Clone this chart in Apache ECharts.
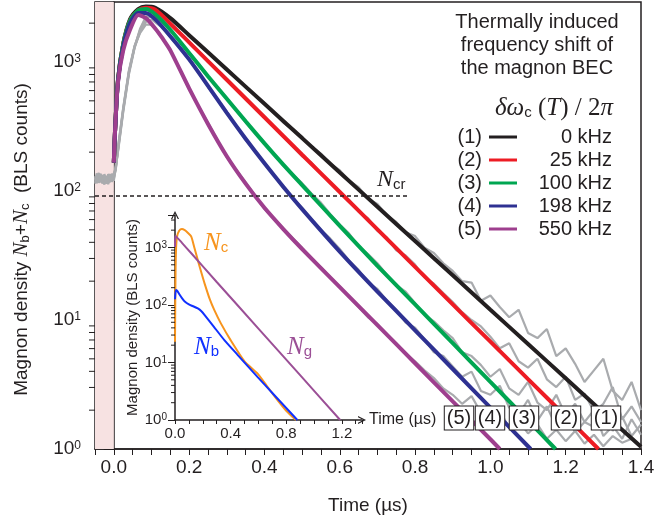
<!DOCTYPE html>
<html><head><meta charset="utf-8">
<script src="https://cdn.jsdelivr.net/npm/echarts@6.0.0/dist/echarts.min.js"></script>
<style>html,body{margin:0;padding:0;background:#fff}#c{width:655px;height:524px}</style>
</head><body><div id="c"></div>
<script>
const SANS = '"Liberation Sans", Arial, Helvetica, sans-serif';
const SERIF = '"Liberation Serif", "Times New Roman", serif';
const INK = '#231f20';

// ---- main chart: fitted curves (time in µs, magnon density in BLS counts)
const fitNames = ['0 kHz', '25 kHz', '100 kHz', '198 kHz', '550 kHz'];
const fitTags = ['(1)', '(2)', '(3)', '(4)', '(5)'];
const fitColors = ['#231f20', '#ed1c24', '#00a651', '#2e3192', '#9e3f8e'];

const fit1 = [[0,166],[0.003,282],[0.011,724],[0.025,1380],[0.043,2138],[0.065,2570],[0.085,2692],[0.11,2630],[0.15,2188],[0.2,1614],[0.3,875],[0.4,474],[0.5,257],[0.6,139],[0.7,75.5],[0.8,40.9],[0.9,22.2],[1.0,12.0],[1.1,6.52],[1.2,3.53],[1.3,1.91],[1.4,1.04]];
const fit2 = [[0,166],[0.003,282],[0.011,724],[0.025,1380],[0.043,2089],[0.065,2512],[0.085,2630],[0.11,2540],[0.15,1980],[0.2,1419],[0.3,728],[0.4,373],[0.5,191],[0.6,98.2],[0.7,50.4],[0.8,25.8],[0.9,13.2],[1.0,6.79],[1.1,3.48],[1.2,1.79],[1.287,1.0]];
const fit3 = [[0,166],[0.003,282],[0.011,724],[0.025,1380],[0.043,2089],[0.065,2512],[0.085,2570],[0.11,2344],[0.15,1778],[0.2,1175],[0.25,776],[0.3,519],[0.35,347],[0.4,234],[0.45,160],[0.5,111],[0.6,53.7],[0.7,26.3],[0.8,13.2],[0.9,6.61],[1.0,3.31],[1.1,1.66],[1.173,1.0]];
const fit4 = [[0,166],[0.003,282],[0.011,708],[0.025,1318],[0.043,2000],[0.065,2399],[0.085,2399],[0.11,2138],[0.15,1585],[0.2,1047],[0.25,653],[0.3,403],[0.35,254],[0.4,164],[0.45,108],[0.5,72.4],[0.6,33.9],[0.7,16.6],[0.8,8.32],[0.9,4.17],[1.0,2.09],[1.107,1.0]];
const fit5 = [[0,166],[0.003,282],[0.011,692],[0.025,1230],[0.043,1778],[0.065,2312],[0.085,2188],[0.11,1820],[0.13,1514],[0.15,1230],[0.2,624],[0.25,331],[0.3,186],[0.35,114],[0.4,74.1],[0.45,50.7],[0.5,35.5],[0.6,18.0],[0.7,9.12],[0.8,4.62],[0.9,2.34],[1.0,1.19],[1.025,1.0]];

// ---- main chart: measured traces (grey)
const grayTime = [-0.05,-0.045,-0.04,-0.035,-0.03,-0.025,-0.02,-0.015,-0.01,-0.005,0,
  0.005,0.012,0.025,0.04,0.055,0.07,0.085,0.1,0.125,
  0.15,0.2,0.25,0.3,0.35,0.4,0.45,
  0.5,0.525,0.55,0.575,0.6,0.625,0.65,0.675,0.7,0.725,0.75,0.775,0.8,0.825,0.85,0.875,0.9,0.925,0.95,0.975,
  1.0,1.025,1.05,1.075,1.1,1.125,1.15,1.175,1.2,1.225,1.25,1.275,1.3,1.325,1.35,1.375,1.4];
const gray1 = [118,132,121,128,114,135,120,126,117,130,124,
  150,215,420,820,1300,1820,2240,2510,2430,
  2138,1622,1175,891,631,479,339,
  263,221,195,162,145,120,107,87.1,79.4,64.6,57.5,47.9,44.7,36.3,33.1,27.5,24.0,20.0,19.5,14.1,
  15.5,12.6,10.5,12.0,7.94,7.24,8.51,5.25,6.03,4.57,3.31,4.07,5.01,2.82,2.40,3.31,2.0];
const gray2 = [130,115,134,119,127,112,131,122,135,118,126,
  145,225,435,840,1320,1780,2190,2450,2330,
  1950,1445,1000,741,513,380,263,
  186,166,135,117,97.7,85.1,69.2,61.7,49.0,43.7,34.7,31.6,26.9,21.4,19.1,16.2,13.8,11.5,10.0,8.91,
  7.41,6.03,6.61,4.79,4.27,5.01,3.47,3.02,3.63,2.40,2.69,1.95,2.24,3.02,1.70,2.14,1.62];
const gray3 = [122,137,116,124,133,119,128,113,125,136,120,
  155,210,410,800,1280,1760,2140,2290,2100,
  1750,1190,765,525,340,238,157,
  115,95.5,81.3,66.1,55.0,46.8,37.2,32.4,27.5,22.4,18.6,16.6,13.5,11.0,9.77,8.32,7.24,5.62,5.25,4.47,
  3.63,4.17,2.95,2.63,3.31,2.29,2.0,2.63,1.82,2.24,1.62,1.48,2.09,1.38,1.78,1.26,1.55];
const gray4 = [127,120,129,136,118,125,114,133,121,127,131,
  148,220,430,835,1300,1720,2040,2140,1880,
  1560,1060,640,410,248,167,105,
  74.1,60.3,50.1,42.7,35.5,28.8,24.5,19.5,17.4,14.1,12.0,9.55,8.71,7.08,5.62,5.25,4.37,3.63,3.98,2.82,
  2.63,3.09,2.09,1.86,2.40,1.66,2.14,1.48,1.91,1.35,1.62,2.0,1.26,1.51,1.20,1.70,1.29];
const gray5 = [114,126,138,117,122,130,116,135,128,121,118,
  152,230,445,860,1330,1680,1950,1950,1580,
  1259,610,339,182,117,72.4,51.3,
  36.3,29.5,25.7,21.4,18.2,15.1,12.6,10.5,9.33,7.76,6.61,5.50,4.79,4.07,3.55,2.95,2.63,2.24,2.57,1.91,
  1.70,2.00,1.45,1.66,1.32,1.55,1.20,1.41,1.15,1.38,1.10,1.29,1.05,1.26,1.12,1.20,1.05];

// critical density line
const ncrLevel = 91.5;
const ncrSpan = [-0.05, 0.785];
const pumpSpan = [-0.05, 0];

// ---- inset
const insetNc = [[0,23],[0.002,120],[0.004,400],[0.008,1000],[0.015,1550],[0.03,1950],[0.05,2089],[0.07,2000],[0.09,1820],[0.117,1549],[0.14,977],[0.164,603],[0.19,363],[0.212,240],[0.25,126],[0.283,81.3],[0.33,47.9],[0.4,24.5],[0.5,10.5],[0.593,6.46],[0.66,3.94],[0.736,2.24],[0.8,1.45],[0.87,1.0]];
const insetNb = [[0,126],[0.006,182],[0.015,178],[0.03,155],[0.05,132],[0.07,115],[0.1,102],[0.13,95],[0.164,87],[0.19,78],[0.212,67.6],[0.28,41.7],[0.355,24.5],[0.45,13.6],[0.593,5.62],[0.7,2.95],[0.8,1.62],[0.88,1.0]];
const insetNg = [[0,1023],[0.004,1585],[0.05,1202],[0.117,794],[0.3,251],[0.6,38.9],[0.9,6.03],[1.188,1.0]];

// tick values
const mainMinorTicks = [2,3,4,5,6,7,8,9,20,30,40,50,60,70,80,90,200,300,400,500,600,700,800,900,2000];
const insetMinorTicks = [2,3,4,5,6,7,8,9,20,30,40,50,60,70,80,90,200,300,400,500,600,700,800,900,2000,3000];

const fits = [fit1, fit2, fit3, fit4, fit5];
const grays = [gray1, gray2, gray3, gray4, gray5];

function powLabel(size, supSize) {
  return {
    formatter: function (v) {
      const e = Math.round(Math.log10(v));
      return Math.abs(v - Math.pow(10, e)) < 1e-6 * v ? '{b|10}{s|' + e + '}' : '';
    },
    rich: {
      b: { fontSize: size, fontFamily: SANS, color: INK },
      s: { fontSize: supSize, fontFamily: SANS, color: INK, verticalAlign: 'top', lineHeight: supSize }
    }
  };
}
function minorTickSeries(xIdx, yIdx, x0, values, len) {
  return {
    type: 'custom', xAxisIndex: xIdx, yAxisIndex: yIdx, silent: true, clip: false, z: 6,
    data: values.map(v => [x0, v]),
    renderItem: function (params, api) {
      const p = api.coord([api.value(0), api.value(1)]);
      return { type: 'line', shape: { x1: p[0] - len, y1: p[1], x2: p[0], y2: p[1] },
               style: { stroke: INK, lineWidth: 1 } };
    }
  };
}

const series = [];
series.push({
  type: 'line', name: 'pump', data: [[pumpSpan[0], 1]], showSymbol: false, silent: true, z: 0,
  lineStyle: { width: 0 },
  markArea: { silent: true, itemStyle: { color: '#f7e2e2' },
    data: [[{ xAxis: pumpSpan[0] }, { xAxis: pumpSpan[1] }]] }
});
grays.forEach((g, i) => {
  series.push({
    type: 'line', name: 'data' + (i + 1), data: grayTime.map((t, k) => [t, g[k]]),
    showSymbol: false, silent: true, z: 2, color: '#a9abae',
    lineStyle: { width: 2.2, color: '#a9abae' }
  });
});
fits.forEach((f, i) => {
  series.push({
    type: 'line', name: fitNames[i], data: f, showSymbol: false, smooth: 0.25, z: 3,
    color: fitColors[i], lineStyle: { width: 4, color: fitColors[i] }
  });
});
series.push({
  type: 'line', name: 'Ncr', data: [[ncrSpan[0], ncrLevel], [ncrSpan[1], ncrLevel]],
  showSymbol: false, silent: true, z: 4,
  lineStyle: { width: 1.6, color: INK, type: [4, 3] }
});
series.push(minorTickSeries(0, 0, -0.05, mainMinorTicks, 6));
// inset
series.push({ type: 'line', name: 'Nc', xAxisIndex: 1, yAxisIndex: 1, data: insetNc, showSymbol: false, smooth: 0.2, z: 5,
  lineStyle: { width: 2, color: '#f7941d' }, color: '#f7941d' });
series.push({ type: 'line', name: 'Ng', xAxisIndex: 1, yAxisIndex: 1, data: insetNg, showSymbol: false, smooth: 0.2, z: 5,
  lineStyle: { width: 2, color: '#9b4f96' }, color: '#9b4f96' });
series.push({ type: 'line', name: 'Nb', xAxisIndex: 1, yAxisIndex: 1, data: insetNb, showSymbol: false, smooth: 0.2, z: 5,
  lineStyle: { width: 2, color: '#1030ff' }, color: '#1030ff' });
series.push(minorTickSeries(1, 1, 0, insetMinorTicks, 4));

const arrowPath = 'path://M0,10L5,0L10,10L8.4,10L5,3.2L1.6,10Z';

const option = {
  animation: false,
  backgroundColor: '#ffffff',
  textStyle: { fontFamily: SANS },
  grid: [
    { left: 95, right: 14, top: 2, bottom: 75, show: true, borderColor: INK, borderWidth: 1.5,
      backgroundColor: 'transparent', containLabel: false, outerBoundsMode: 'none' },
    { left: 175, top: 215, width: 187, height: 205, show: false, containLabel: false, outerBoundsMode: 'none' }
  ],
  xAxis: [
    { type: 'value', gridIndex: 0, min: -0.05, max: 1.4, interval: 0.05,
      name: 'Time (µs)', nameLocation: 'middle', nameGap: 47,
      nameTextStyle: { fontSize: 19, color: INK, fontFamily: SANS },
      axisLine: { lineStyle: { color: INK, width: 1.5 } },
      axisTick: { show: true, inside: false, length: 6, lineStyle: { color: INK, width: 1 } },
      axisLabel: { interval: 0, hideOverlap: false, margin: 9, fontSize: 19, color: INK, fontFamily: SANS,
        formatter: function (v) { const r = Math.round(v * 100); return (r % 20 === 0) ? (r / 100).toFixed(1) : ''; } },
      splitLine: { show: false } },
    { type: 'value', gridIndex: 1, min: 0, max: 1.345, interval: 0.1,
      name: 'Time (µs)', nameLocation: 'end', nameGap: 7,
      nameTextStyle: { fontSize: 16, color: INK, fontFamily: SANS },
      axisLine: { lineStyle: { color: INK, width: 1.5 }, symbol: ['none', arrowPath], symbolSize: [12, 8] },
      axisTick: { show: true, inside: false, length: 4, lineStyle: { color: INK } },
      axisLabel: { interval: 0, hideOverlap: false, margin: 6, fontSize: 15, color: INK, fontFamily: SANS,
        formatter: function (v) { const r = Math.round(v * 10); return (Math.abs(v * 10 - r) < 1e-6 && r % 4 === 0) ? (r / 10).toFixed(1) : ''; } },
      splitLine: { show: false } }
  ],
  yAxis: [
    { type: 'log', logBase: 10, gridIndex: 0, min: 1, max: 2917,
      name: '{t|Magnon density }{i|N}{s|b}{t|+}{i|N}{s|c}{t|  (BLS counts)}',
      nameLocation: 'middle', nameRotate: 90, nameGap: 63,
      nameTextStyle: { padding: [0, 28, 0, 0], rich: {
        t: { fontSize: 19, fontFamily: SANS, color: INK },
        i: { fontSize: 21, fontFamily: SERIF, fontStyle: 'italic', color: INK },
        s: { fontSize: 13, fontFamily: SANS, color: INK, verticalAlign: 'bottom', lineHeight: 13 } } },
      axisLine: { lineStyle: { color: INK, width: 1.5 } },
      axisTick: { show: true, inside: false, length: 10, lineStyle: { color: INK } },
      axisLabel: Object.assign({ margin: 14 }, powLabel(19, 12)),
      minorTick: { show: false }, splitLine: { show: false } },
    { type: 'log', logBase: 10, gridIndex: 1, min: 1, max: 3670,
      name: 'Magnon density (BLS counts)', nameLocation: 'middle', nameRotate: 90, nameGap: 35,
      nameTextStyle: { fontSize: 15, color: INK, fontFamily: SANS, padding: [0, 0, 0, 0] },
      axisLine: { lineStyle: { color: INK, width: 1.5 }, symbol: ['none', arrowPath], symbolSize: [12, 8] },
      axisTick: { show: true, inside: false, length: 7, lineStyle: { color: INK } },
      axisLabel: Object.assign({ margin: 8 }, powLabel(15, 10)),
      splitLine: { show: false } }
  ],
  legend: {
    data: fitNames, orient: 'vertical', left: 489, top: 127, padding: 0,
    itemWidth: 28, itemHeight: 3, itemGap: 3, icon: 'rect', selectedMode: false,
    formatter: function (n) { return '{v|' + n + '}'; },
    textStyle: { fontSize: 20, lineHeight: 20, color: INK, fontFamily: SANS,
      rich: { v: { width: 90, align: 'right', fontSize: 20, fontFamily: SANS, color: INK } } }
  },
  graphic: [
    { type: 'text', x: 537, y: 11, z: 10, style: { text: 'Thermally induced\nfrequency shift of\nthe magnon BEC',
      align: 'center', verticalAlign: 'top', fontSize: 20, lineHeight: 23, fontFamily: SANS, fill: INK } },
    { type: 'text', x: 613, y: 108, z: 10, style: { text: '{i|δω}{s|c}{r| (}{i|T}{r|) / 2}{i|π}',
      align: 'right', verticalAlign: 'middle', rich: {
        i: { fontSize: 25, fontFamily: SERIF, fontStyle: 'italic', fill: INK },
        r: { fontSize: 25, fontFamily: SERIF, fill: INK },
        s: { fontSize: 15, fontFamily: SANS, fill: INK, verticalAlign: 'bottom', lineHeight: 15 } } } }
  ].concat(fitTags.map((t, i) => ({ type: 'text', x: 482, y: 137 + 23 * i, z: 10,
      style: { text: t, align: 'right', verticalAlign: 'middle', fontSize: 20, fontFamily: SANS, fill: INK } })))
   .concat([
    { type: 'text', x: 377, y: 180, z: 10, style: { text: '{i|N}{s|cr}', align: 'left', verticalAlign: 'middle', rich: {
        i: { fontSize: 24, fontFamily: SERIF, fontStyle: 'italic', fill: INK },
        s: { fontSize: 15, fontFamily: SANS, fill: INK, verticalAlign: 'bottom', lineHeight: 15 } } } },
    { type: 'text', x: 204, y: 243, z: 10, style: { text: '{i|N}{s|c}', align: 'left', verticalAlign: 'middle', rich: {
        i: { fontSize: 25, fontFamily: SERIF, fontStyle: 'italic', fill: '#f7941d' },
        s: { fontSize: 15, fontFamily: SANS, fill: '#f7941d', verticalAlign: 'bottom', lineHeight: 15 } } } },
    { type: 'text', x: 194, y: 347, z: 10, style: { text: '{i|N}{s|b}', align: 'left', verticalAlign: 'middle', rich: {
        i: { fontSize: 25, fontFamily: SERIF, fontStyle: 'italic', fill: '#1030ff' },
        s: { fontSize: 15, fontFamily: SANS, fill: '#1030ff', verticalAlign: 'bottom', lineHeight: 15 } } } },
    { type: 'text', x: 287, y: 347, z: 10, style: { text: '{i|N}{s|g}', align: 'left', verticalAlign: 'middle', rich: {
        i: { fontSize: 25, fontFamily: SERIF, fontStyle: 'italic', fill: '#9b4f96' },
        s: { fontSize: 15, fontFamily: SANS, fill: '#9b4f96', verticalAlign: 'bottom', lineHeight: 15 } } } }
  ]).concat([['(5)', 459], ['(4)', 490], ['(3)', 524], ['(2)', 566], ['(1)', 606]].map(b => ({
    type: 'text', x: b[1], y: 418, z: 10, style: { text: b[0], align: 'center', verticalAlign: 'middle',
      fontSize: 20, fontFamily: SANS, fill: INK, backgroundColor: '#ffffff', borderColor: INK, borderWidth: 1,
      padding: [2, 2, 1, 2] } })))
  ,
  series: series
};

const chart = echarts.init(document.getElementById('c'), null, { renderer: 'canvas', width: 655, height: 524 });
chart.setOption(option);
</script>
</body></html>
